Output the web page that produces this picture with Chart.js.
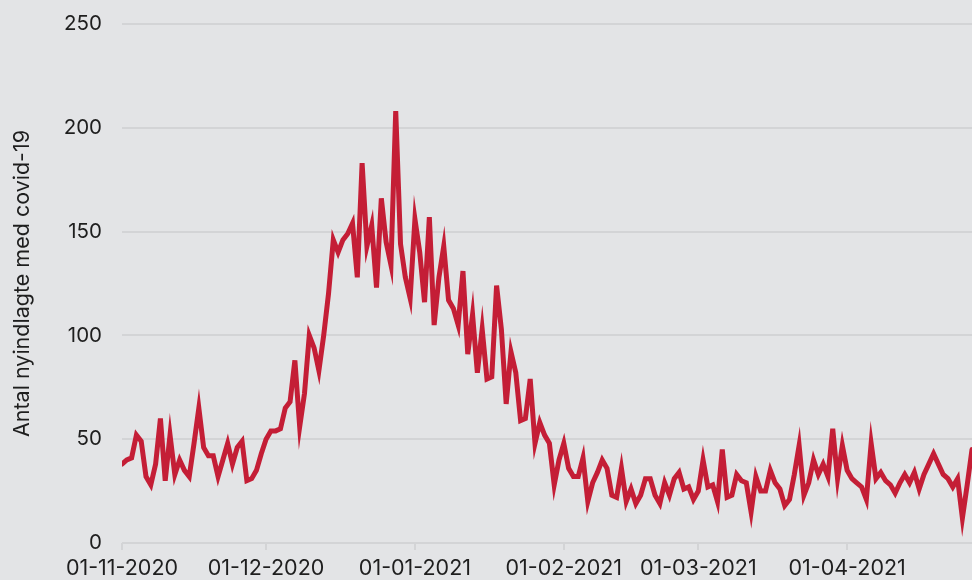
<!DOCTYPE html>
<html>
<head>
<meta charset="utf-8">
<script src="https://cdn.jsdelivr.net/npm/chart.js@4/dist/chart.umd.min.js"></script>
<style>
  html, body { margin: 0; padding: 0; background: #e3e4e6; }
  canvas { display: block; }
</style>
</head>
<body>
<canvas id="chart" width="972" height="580"></canvas>
<script>
// First day of the series, one value per day after it
const startDate = '2020-11-01'

// Daily new admissions, by month
const nov = [38, 40, 41, 52, 49, 32, 28, 38, 60, 30, 52, 33, 40, 35, 32, 48, 65, 46, 42, 42, 32, 40, 48, 38, 46, 49, 30, 31, 35, 43]
const dec = [50, 54, 54, 55, 65, 68, 88, 56, 72, 100, 94, 83, 100, 120, 146, 140, 146, 149, 154, 128, 183, 143, 153, 123, 166, 145, 134, 208, 144, 128, 118]
const jan = [156, 140, 116, 157, 105, 128, 143, 117, 113, 105, 131, 91, 110, 82, 103, 79, 80, 124, 103, 67, 92, 82, 59, 60, 79, 48, 58, 52, 48, 28, 40]
const feb = [48, 36, 32, 32, 41, 20, 29, 34, 40, 36, 23, 22, 36, 20, 26, 19, 23, 31, 31, 23, 19, 29, 23, 31, 34, 26, 27, 21]
const mar = [25, 40, 27, 28, 20, 45, 22, 23, 33, 30, 29, 15, 32, 25, 25, 35, 29, 26, 18, 21, 33, 47, 23, 29, 40, 33, 38, 32, 55, 31, 47]
const apr = [35, 31, 29, 27, 21, 48, 31, 34, 30, 28, 24, 29, 33, 29, 34, 26, 33, 38, 43, 38, 33, 31, 27, 31, 12, 28, 45]

const admissions = [...nov, ...dec, ...jan, ...feb, ...mar, ...apr]

// Tick labels on the time axis
const monthTicks = ['01-11-2020', '01-12-2020', '01-01-2021', '01-02-2021', '01-03-2021', '01-04-2021']
const yTicks = [0, 50, 100, 150, 200, 250]

// dd-mm-yyyy label for each day
const dates = admissions.map((v, i) => {
  const d = new Date(startDate + 'T00:00:00Z')
  d.setUTCDate(d.getUTCDate() + i)
  const dd = String(d.getUTCDate()).padStart(2, '0')
  const mm = String(d.getUTCMonth() + 1).padStart(2, '0')
  return dd + '-' + mm + '-' + d.getUTCFullYear()
})
const tickDays = monthTicks.map(label => dates.indexOf(label))

const gridGrey = '#d3d4d6'
const textColor = '#1e1e1e'

Chart.defaults.font.family = 'Inter, Roboto, sans-serif'
Chart.defaults.font.size = 20.5
Chart.defaults.color = textColor

new Chart(document.querySelector('#chart'), {
  type: 'line',
  data: {
    datasets: [{
      data: admissions.map((v, i) => ({ x: i, y: v })),
      borderColor: '#c41e36',
      borderWidth: 5,
      pointRadius: 0,
      tension: 0,
      borderCapStyle: 'round'
    }]
  },
  options: {
    responsive: false,
    animation: false,
    layout: { padding: { top: 24, right: 0, left: 0, bottom: 0 } },
    plugins: {
      legend: { display: false },
      tooltip: { enabled: false }
    },
    scales: {
      x: {
        type: 'linear',
        min: 0,
        max: admissions.length - 1,
        afterBuildTicks: axis => {
          axis.ticks = tickDays.map(v => ({ value: v }))
        },
        afterFit: axis => {
          axis.height = 37
          axis.paddingLeft = 0
          axis.paddingRight = 0
        },
        border: { display: false },
        grid: {
          drawOnChartArea: false,
          color: gridGrey,
          lineWidth: 2,
          tickLength: 7
        },
        ticks: {
          maxRotation: 0,
          autoSkip: false,
          padding: 6,
          font: { size: 21.5 },
          callback: value => dates[value]
        }
      },
      y: {
        min: 0,
        max: 250,
        afterBuildTicks: axis => {
          axis.ticks = yTicks.map(v => ({ value: v }))
        },
        afterFit: axis => {
          axis.width = 122
          // let the layout padding decide where the plot starts
          axis.paddingTop = 0
          axis.paddingBottom = 0
        },
        border: { display: false },
        grid: {
          color: gridGrey,
          lineWidth: 2,
          drawTicks: false
        },
        ticks: { padding: 20 },
        title: {
          display: true,
          text: 'Antal nyindlagte med covid-19',
          padding: { top: 10, bottom: 0 },
          font: { size: 21.5 }
        }
      }
    }
  }
})
</script>
</body>
</html>
